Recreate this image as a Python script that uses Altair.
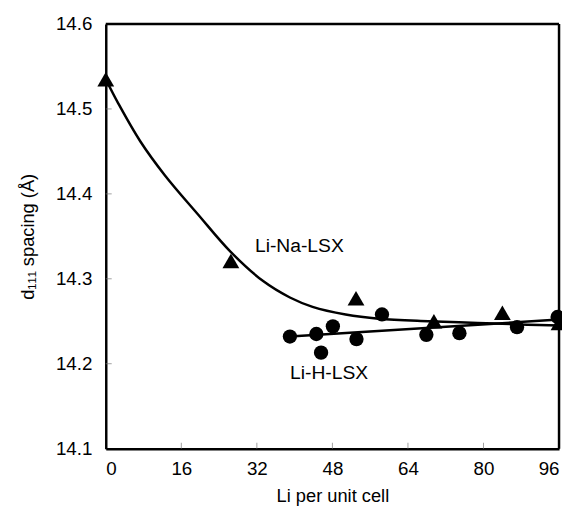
import altair as alt
import pandas as pd

# Li-Na-LSX (triangles)
na_li = [0, 26.5, 53, 69.5, 84, 96]
na_d = [14.535, 14.321, 14.277, 14.250, 14.260, 14.248]
# Li-H-LSX (circles)
h_li = [39, 44.6, 45.6, 48.1, 53.1, 58.5, 67.9, 74.9, 87.1, 95.7]
h_d = [14.232, 14.235, 14.213, 14.244, 14.229, 14.258, 14.234, 14.236, 14.243, 14.255]
# fitted curve for Li-Na-LSX
na_fit_li = [0, 2.7, 7.3, 12.5, 19.5, 26.4, 33.4, 39, 43.8, 50.8, 57.8, 68.3, 78.8, 89.3, 96]
na_fit_d = [14.535, 14.506, 14.462, 14.422, 14.376, 14.332, 14.297, 14.278, 14.267, 14.258, 14.253, 14.250, 14.248, 14.246, 14.245]
# linear fit for Li-H-LSX
h_fit_li = [39, 96]
h_fit_d = [14.232, 14.252]

labels = ["Li-Na-LSX", "Li-H-LSX"]
label_li = [41.0, 47.3]
label_d = [14.339, 14.189]

x_ticks = [0, 16, 32, 48, 64, 80, 96]
y_ticks = [14.1, 14.2, 14.3, 14.4, 14.5, 14.6]
x_domain = [0, 96]
y_domain = [14.1, 14.6]

FONT = "Liberation Sans"

xs = alt.Scale(domain=x_domain, nice=False, zero=False)
ys = alt.Scale(domain=y_domain, nice=False, zero=False)

xaxis = alt.Axis(values=x_ticks, title="Li per unit cell",
                 grid=False, ticks=False, labelPadding=11,
                 labelFontSize=19, titleFontSize=18.5, titlePadding=9,
                 labelFont=FONT, titleFont=FONT, labelColor="black", titleColor="black",
                 titleFontWeight="normal", domain=True, domainColor="black", domainWidth=2.5)
yaxis = alt.Axis(values=y_ticks, format=".1f",
                 title="d₁₁₁ spacing (Å)", grid=False, ticks=False,
                 labelPadding=14, labelFontSize=19, titleFontSize=18.5, titlePadding=18,
                 labelFont=FONT, titleFont=FONT, labelColor="black", titleColor="black",
                 titleFontWeight="normal", domain=True, domainColor="black", domainWidth=2.5)

frame_top = alt.Chart(pd.DataFrame({"x": [x_domain[0]], "x2": [x_domain[1]], "y": [y_domain[1]]})).mark_rule(
    color="black", strokeWidth=2.5).encode(
    x=alt.X("x:Q", scale=xs, axis=xaxis), x2="x2:Q", y=alt.Y("y:Q", scale=ys, axis=yaxis))
frame_right = alt.Chart(pd.DataFrame({"x": [x_domain[1]], "y": [y_domain[0]], "y2": [y_domain[1]]})).mark_rule(
    color="black", strokeWidth=2.5).encode(
    x=alt.X("x:Q", scale=xs), y=alt.Y("y:Q", scale=ys), y2="y2:Q")
fit_na = alt.Chart(pd.DataFrame({"li": na_fit_li, "d": na_fit_d})).mark_line(
    color="black", strokeWidth=2.5, interpolate="catmull-rom").encode(
    x=alt.X("li:Q", scale=xs), y=alt.Y("d:Q", scale=ys))
fit_h = alt.Chart(pd.DataFrame({"li": h_fit_li, "d": h_fit_d})).mark_line(
    color="black", strokeWidth=2.5).encode(x=alt.X("li:Q", scale=xs), y=alt.Y("d:Q", scale=ys))
tri = alt.Chart(pd.DataFrame({"li": na_li, "d": na_d})).mark_point(
    shape="triangle-up", filled=True, color="black", opacity=1, size=290).encode(
    x=alt.X("li:Q", scale=xs), y=alt.Y("d:Q", scale=ys))
circ = alt.Chart(pd.DataFrame({"li": h_li, "d": h_d})).mark_circle(
    color="black", opacity=1, size=210).encode(
    x=alt.X("li:Q", scale=xs), y=alt.Y("d:Q", scale=ys))
txt = alt.Chart(pd.DataFrame({"li": label_li, "d": label_d, "t": labels})).mark_text(
    font=FONT, fontSize=19.5, color="black", align="center", baseline="middle").encode(
    x=alt.X("li:Q", scale=xs), y=alt.Y("d:Q", scale=ys), text="t:N")

xtick = alt.Chart(pd.DataFrame({"v": x_ticks[1:-1]})).mark_tick(
    orient="vertical", color="#777", size=6, thickness=1, yOffset=-3).encode(
    x=alt.X("v:Q", scale=xs), y=alt.datum(14.1, scale=ys))
ytick = alt.Chart(pd.DataFrame({"v": y_ticks[1:-1]})).mark_tick(
    orient="horizontal", color="#777", size=6, thickness=1, xOffset=3).encode(
    y=alt.Y("v:Q", scale=ys), x=alt.datum(0, scale=xs))

chart = alt.layer(frame_top, frame_right, fit_na, fit_h, tri, circ, txt, xtick, ytick).properties(
    width=459, height=430,
    background="white",
    autosize=alt.AutoSizeParams(type="none"),
    padding={"left": 99, "top": 13, "right": 3, "bottom": 66},
)

chart.save("out.html", embed_options={"renderer": "svg", "actions": False})
